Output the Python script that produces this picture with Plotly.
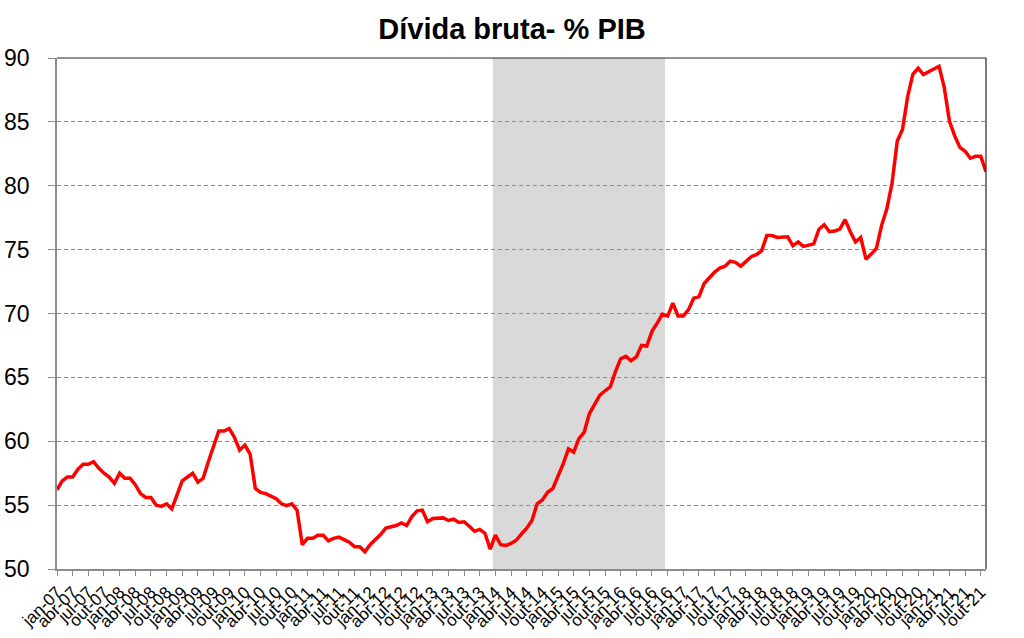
import plotly.graph_objects as go

month_names = ["jan", "fev", "mar", "abr", "mai", "jun", "jul", "ago", "set", "out", "nov", "dez"]
start_year = 2007
n_months = 179  # jan-07 .. nov-21

divida_bruta = [
    56.2, 56.9, 57.2, 57.2, 57.8, 58.2, 58.2, 58.4, 57.9, 57.5, 57.2, 56.7,
    57.5, 57.1, 57.1, 56.6, 55.9, 55.6, 55.6, 55.0, 54.9, 55.1, 54.7, 55.9,
    56.9, 57.2, 57.5, 56.8, 57.1, 58.4, 59.7, 60.8, 60.8, 61.0, 60.3, 59.3,
    59.7, 59.0, 56.3, 56.0, 55.9, 55.7, 55.5, 55.1, 54.95, 55.1, 54.6, 51.9,
    52.4, 52.4, 52.65, 52.65, 52.2, 52.4, 52.5, 52.3, 52.1, 51.75, 51.75, 51.35,
    51.9, 52.3, 52.7, 53.2, 53.3, 53.4, 53.6, 53.4, 54.1, 54.55, 54.6, 53.7,
    53.95, 54.0, 54.0, 53.8, 53.9, 53.65, 53.7, 53.35, 52.95, 53.1, 52.8, 51.55,
    52.65, 51.9, 51.85, 52.0, 52.25, 52.75, 53.2, 53.8, 55.1, 55.4, 56.0, 56.3,
    57.2, 58.25, 59.4, 59.15, 60.2, 60.7, 62.15, 62.95, 63.6, 63.95, 64.25, 65.45,
    66.45, 66.65, 66.3, 66.6, 67.5, 67.45, 68.6, 69.25, 69.95, 69.8, 70.8, 69.8,
    69.8, 70.3, 71.2, 71.3, 72.35, 72.8, 73.25, 73.55, 73.7, 74.1, 74.0, 73.7,
    74.05, 74.45, 74.6, 74.9, 76.1, 76.1, 75.95, 76.0, 76.0, 75.3, 75.6, 75.25,
    75.35, 75.45, 76.6, 76.95, 76.4, 76.45, 76.6, 77.35, 76.4, 75.6, 75.95, 74.25,
    74.65, 75.1, 76.9, 78.2, 80.2, 83.5, 84.4, 87.0, 88.75, 89.2, 88.7, 88.9,
    89.1, 89.35, 87.7, 85.05, 83.9, 83.0, 82.7, 82.15, 82.3, 82.3, 81.1,
]

month_labels = [f"{month_names[i % 12]}-{(start_year + i // 12) % 100:02d}" for i in range(n_months)]
x_idx = list(range(n_months))

tick_step = 3
tick_vals = x_idx[::tick_step]
tick_text = month_labels[::tick_step]

shade_start = "jan-14"
shade_end = "set-16"

y_ticks = [50, 55, 60, 65, 70, 75, 80, 85, 90]

fig = go.Figure()
fig.add_trace(go.Scatter(
    x=x_idx, y=divida_bruta, mode="lines",
    line=dict(color="#FF0000", width=3.5),
    hoverinfo="skip", showlegend=False,
))

s0 = month_labels.index(shade_start) - 0.5
s1 = month_labels.index(shade_end) + 0.5
fig.add_shape(type="rect", xref="x", yref="paper", x0=s0, x1=s1, y0=0, y1=1,
              fillcolor="#D9D9D9", line=dict(width=0), layer="below")
fig.add_shape(type="line", xref="paper", yref="paper", x0=0, x1=1, y0=1, y1=1,
              line=dict(color="#262626", width=1.2))
fig.add_shape(type="line", xref="paper", yref="paper", x0=1, x1=1, y0=0, y1=1,
              line=dict(color="#262626", width=1.2))

fig.update_layout(
    width=1024, height=638,
    margin=dict(l=57, r=38, t=58, b=69, autoexpand=False),
    paper_bgcolor="white", plot_bgcolor="white",
    font=dict(family="Liberation Sans, Arial, sans-serif", color="#000000"),
    title=dict(text="<b>Dívida bruta- % PIB</b>", x=0.5, xanchor="center",
               y=1 - 29 / 638, yanchor="middle", yref="container",
               font=dict(size=29, family="Liberation Sans, Arial, sans-serif")),
    showlegend=False,
)
fig.update_xaxes(
    range=[0, n_months - 1], tickmode="array", tickvals=tick_vals, ticktext=tick_text,
    tickangle=-45, tickfont=dict(size=17), showgrid=False, zeroline=False,
    showline=True, linecolor="#8C8C8C", linewidth=1.5,
    ticks="outside", ticklen=5, tickcolor="#8C8C8C", tickwidth=1.3,
    automargin=False,
)
fig.update_yaxes(
    range=[50, 90], tickmode="array", tickvals=y_ticks,
    tickfont=dict(size=23), showgrid=True, gridcolor="#8C8C8C", gridwidth=1,
    griddash="4px,3px", zeroline=False,
    showline=True, linecolor="#8C8C8C", linewidth=1.5,
    ticks="outside", ticklen=7, tickcolor="#8C8C8C", ticklabelstandoff=14,
    automargin=False,
)

fig.write_html("out.html", config={"displayModeBar": False},
               post_script="document.body.style.margin='0';")
